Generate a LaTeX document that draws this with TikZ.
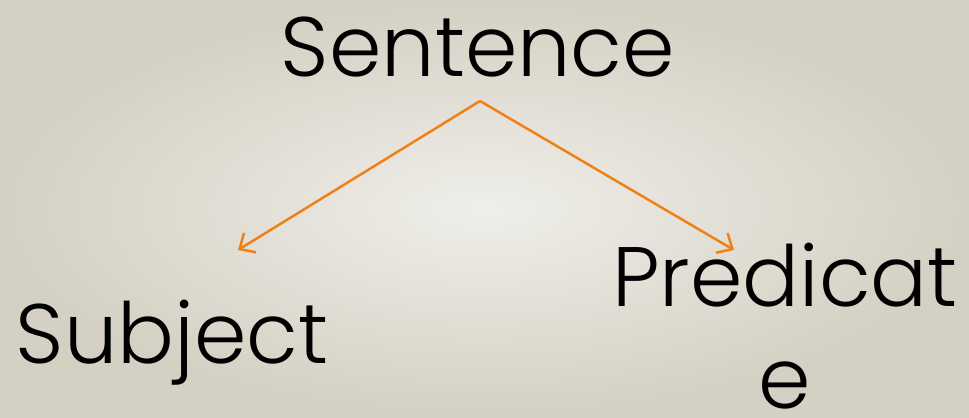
\documentclass[tikz,border=0pt]{standalone}
\usepackage{fontspec}
\setmainfont{Poppins Light}
\usetikzlibrary{arrows.meta,positioning}
\definecolor{SlideLight}{RGB}{239,238,233}
\definecolor{SlideDark}{RGB}{212,208,195}
\definecolor{TreeOrange}{RGB}{240,128,20}
\tikzset{
  word/.style={inner sep=0pt,font=\fontsize{48}{58}\selectfont},
  branch/.style={->,TreeOrange,line width=1.4pt}
}
\begin{document}
\begin{tikzpicture}[x=0.02cm,y=0.02cm,>={Straight Barb[length=7pt,width=13pt]}]
      \shade[inner color=SlideLight,outer color=SlideDark] (0,0) rectangle (969,417);
      \useasboundingbox (0,0) rectangle (969,417);
      \node[word,anchor=base] (sentence) at (478,341) {Sentence};
      \node[word,anchor=base] (subject) at (172,54) {Subject};
      \node[word,anchor=base,align=center] (predicate) at (785,9) {Predicat\\e};
      \coordinate (fork) at (480,316);
      \coordinate (subjtip) at (238,167);
      \coordinate (predtip) at (734,167);
      \draw[branch] (fork) -- (subjtip);
      \draw[branch] (fork) -- (predtip);
    \end{tikzpicture}
\end{document}
